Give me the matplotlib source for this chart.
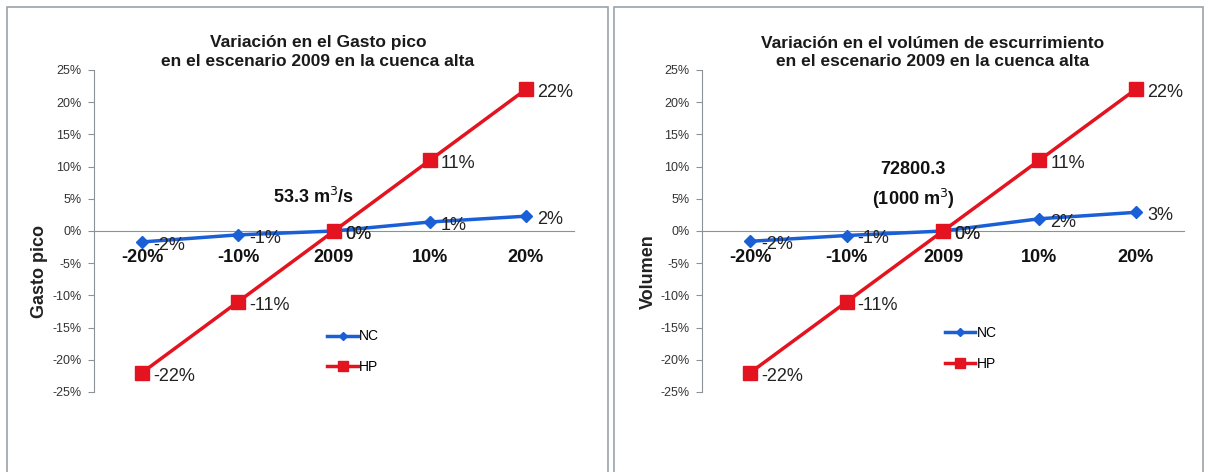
import matplotlib
matplotlib.use("Agg")
import matplotlib.pyplot as plt
from matplotlib.patches import Rectangle
from matplotlib.ticker import PercentFormatter, MultipleLocator

plt.rcParams['font.family'] = ['Liberation Sans', 'DejaVu Sans']
plt.rcParams['axes.unicode_minus'] = False

categories = ["-20%", "-10%", "2009", "10%", "20%"]

# Gasto pico (left panel)
nc_gasto = [-0.017, -0.006, 0.0, 0.014, 0.023]
hp_gasto = [-0.22, -0.11, 0.0, 0.11, 0.22]

# Volumen de escurrimiento (right panel)
nc_vol = [-0.016, -0.007, 0.0, 0.019, 0.029]
hp_vol = [-0.22, -0.11, 0.0, 0.11, 0.22]

titles = ["Variación en el Gasto pico\nen el escenario 2009 en la cuenca alta",
          "Variación en el volúmen de escurrimiento\nen el escenario 2009 en la cuenca alta"]
ylabels = ["Gasto pico", "Volumen"]
notes = ["53.3 m$^3$/s", "72800.3\n(1000 m$^3$)"]

BLUE = "#1a5fd6"
RED = "#e3141f"
GRAY = "#8a9296"

W, H = 1207, 472
fig = plt.figure(figsize=(W / 100, H / 100), dpi=100)

# panel frames
for x0, x1 in [(7, 608), (614, 1203)]:
    fig.patches.append(Rectangle((x0 / W, -0.05), (x1 - x0) / W, 1.05 - 7 / H,
                                 transform=fig.transFigure, fill=False,
                                 edgecolor="#9aa3aa", linewidth=1.2))

panels = [
    dict(rect=[94 / W, 80 / H, 480 / W, 322 / H], nc=nc_gasto, hp=hp_gasto,
         title_x=318 / W, ylab_x=40 / W, note_xy=(313 / W, 1 - 197 / H),
         leg=(0.46, 0.125)),
    dict(rect=[702 / W, 80 / H, 482 / W, 322 / H], nc=nc_vol, hp=hp_vol,
         title_x=933 / W, ylab_x=648 / W, note_xy=(913 / W, 1 - 186 / H),
         leg=(0.478, 0.135)),
]

for i, p in enumerate(panels):
    ax = fig.add_axes(p["rect"])

    # horizontal axis runs through zero; configure spines before tick labels
    ax.spines["top"].set_visible(False)
    ax.spines["right"].set_visible(False)
    ax.spines["bottom"].set_position(("data", 0))
    ax.spines["bottom"].set_color(GRAY)
    ax.spines["left"].set_color(GRAY)
    ax.patch.set_alpha(0)

    x = list(range(len(categories)))
    ax.plot(x, p["nc"], color=BLUE, lw=2.5, marker="D", ms=6, label="NC", zorder=3)
    ax.plot(x, p["hp"], color=RED, lw=2.5, marker="s", ms=10, label="HP", zorder=3)

    for series in (p["nc"], p["hp"]):
        for xi, v in zip(x, series):
            ax.annotate(f"{v * 100:.0f}%", (xi, v), xytext=(8, -2.5),
                        textcoords="offset points", fontsize=13, color="#222222",
                        ha="left", va="center")

    ax.set_xlim(-0.5, 4.5)
    ax.set_ylim(-0.25, 0.25)
    ax.yaxis.set_major_locator(MultipleLocator(0.05))
    ax.yaxis.set_major_formatter(PercentFormatter(1.0, decimals=0))
    ax.set_xticks(x)
    ax.tick_params(axis="x", length=0, pad=13, labelsize=13)
    ax.tick_params(axis="y", direction="out", length=4, color=GRAY, labelsize=9,
                   labelcolor="#333333", pad=5)
    ax.set_xticklabels(categories, fontsize=13, fontweight="bold", color="#111111")

    fig.text(p["title_x"], 1 - 52 / H, titles[i], ha="center", va="center",
             fontsize=12.5, fontweight="bold", linespacing=1.25, color="#1a1a1a")
    fig.text(p["ylab_x"], 1 - 272 / H, ylabels[i], rotation=90, ha="center", va="center",
             fontsize=13, fontweight="bold", color="#222222")
    fig.text(*p["note_xy"], notes[i], ha="center", va="center", fontsize=13,
             fontweight="bold", linespacing=1.45, color="#111111")

    ax.legend(loc="center left", bbox_to_anchor=p["leg"], frameon=False,
              fontsize=10, handlelength=2.2, handletextpad=0.1, labelspacing=1.2,
              markerscale=0.7)

fig.savefig("out.png", dpi=100)
